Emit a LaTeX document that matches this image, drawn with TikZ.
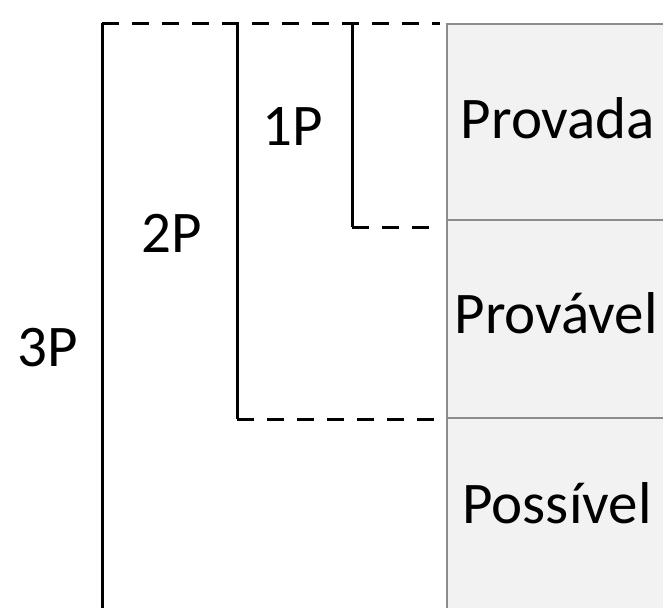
\documentclass[tikz,border=0pt]{standalone}
\usepackage{fontspec}
\setmainfont{Carlito}
\definecolor{cellfill}{HTML}{F2F2F2}
\definecolor{cellline}{HTML}{8C8C8C}
\tikzset{
  bracket/.style={line width=1.5pt, black},
  dashbracket/.style={line width=1.5pt, black, dash pattern=on 8.5pt off 6.5pt},
  cellbox/.style={draw=cellline, line width=1pt, fill=cellfill},
  lbl/.style={font=\fontsize{29.5}{35}\selectfont, anchor=base, inner sep=0pt}
}
\begin{document}
\begin{tikzpicture}[x=0.5pt,y=-0.5pt]
    \useasboundingbox (0,0) rectangle (663,607);
    \clip (0,0) rectangle (663,607);

    % cells
    \draw[cellbox] (447,24) rectangle (680,220);
    \draw[cellbox] (447,220) rectangle (680,418);
    \draw[cellbox] (447,418) rectangle (680,620);
    \node[lbl] (provada) at (558,138) {Provada};
    \node[lbl] (provavel) at (556,333) {Provável};
    \node[lbl] (possivel) at (557,523) {Possível};

    % corners of the brackets
    \coordinate (a3) at (102,23);
    \coordinate (b3) at (102,615);
    \coordinate (a2) at (237,23);
    \coordinate (b2) at (237,419);
    \coordinate (a1) at (352,23);
    \coordinate (b1) at (352,227);
    \coordinate (e0) at (440,23);
    \coordinate (e1) at (430,227);
    \coordinate (e2) at (440,419);

    \draw[dashbracket] (a3) -- (e0);
    \draw[bracket] (a3) -- (b3);
    \draw[bracket] (a2) -- (b2);
    \draw[dashbracket] (b2) -- (e2);
    \draw[bracket] (a1) -- (b1);
    \draw[dashbracket] (b1) -- (e1);

    \node[lbl] (p1) at (293,145) {1P};
    \node[lbl] (p2) at (172,252) {2P};
    \node[lbl] (p3) at (48,366) {3P};
\end{tikzpicture}
\end{document}
